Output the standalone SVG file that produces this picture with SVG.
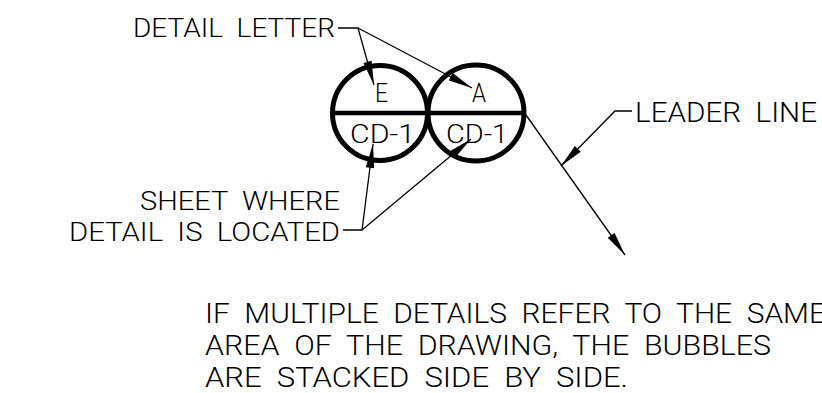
<svg xmlns="http://www.w3.org/2000/svg" width="822" height="393" viewBox="0 0 822 393">
<style>
text{font-family:Roboto,"Liberation Sans",Arial,sans-serif;font-weight:300;fill:#000;font-size:26px;white-space:pre}
.big{font-size:27px}
.thin{stroke:#000;stroke-width:1.3;fill:none}
.bubble{stroke:#000;stroke-width:5;fill:none}
.bar{stroke:#000;stroke-width:4.5}
</style>
<defs>
<marker id="arr" markerUnits="userSpaceOnUse" markerWidth="30" markerHeight="12" viewBox="-26 -6 28 12" refX="0" refY="0" orient="auto">
<path d="M0,0 L-24,-4.2 L-24,4.2 z" fill="#000"/>
</marker>
</defs>
<rect width="822" height="393" fill="#fff"/>
<g id="bubble-E">
<circle class="bubble" cx="380" cy="113" r="47.5"/>
<text x="375" y="102" textLength="13" lengthAdjust="spacingAndGlyphs">E</text>
<text x="350" y="143" textLength="65" lengthAdjust="spacingAndGlyphs">CD-1</text>
</g>
<g id="bubble-A">
<circle class="bubble" cx="476" cy="113" r="48"/>
<text x="472" y="102" textLength="14" lengthAdjust="spacingAndGlyphs">A</text>
<text x="446" y="143" textLength="62" lengthAdjust="spacingAndGlyphs">CD-1</text>
</g>
<g id="divider">
<line class="bar" x1="333" y1="113" x2="523" y2="113"/>
</g>
<g id="label-detail-letter">
<text x="133" y="37" textLength="202" lengthAdjust="spacingAndGlyphs">DETAIL  LETTER</text>
</g>
<g id="label-sheet">
<text x="140" y="210" textLength="200" lengthAdjust="spacingAndGlyphs">SHEET  WHERE</text>
<text x="69" y="241" textLength="271" lengthAdjust="spacingAndGlyphs">DETAIL  IS  LOCATED</text>
</g>
<g id="label-leader-line">
<text class="big" x="635" y="122" textLength="182" lengthAdjust="spacingAndGlyphs">LEADER  LINE</text>
</g>
<g id="note">
<text class="big" x="205" y="323" textLength="621" lengthAdjust="spacingAndGlyphs">IF  MULTIPLE  DETAILS  REFER  TO  THE  SAME</text>
<text class="big" x="205" y="355" textLength="566" lengthAdjust="spacingAndGlyphs">AREA  OF  THE  DRAWING,  THE  BUBBLES</text>
<text class="big" x="205" y="387" textLength="423" lengthAdjust="spacingAndGlyphs">ARE  STACKED  SIDE  BY  SIDE.</text>
</g>
<g id="connectors">
<polyline class="thin" points="338,28 358,28 374,85" marker-end="url(#arr)"/>
<line class="thin" x1="358" y1="28" x2="472" y2="88" marker-end="url(#arr)"/>
<polyline class="thin" points="343,230 362,230 373,144" marker-end="url(#arr)"/>
<line class="thin" x1="362" y1="230" x2="471" y2="139" marker-end="url(#arr)"/>
<polyline class="thin" points="632,111 615,111 561,166" marker-end="url(#arr)"/>
<line class="thin" x1="526" y1="115" x2="625" y2="255" marker-end="url(#arr)"/>
</g>
</svg>
